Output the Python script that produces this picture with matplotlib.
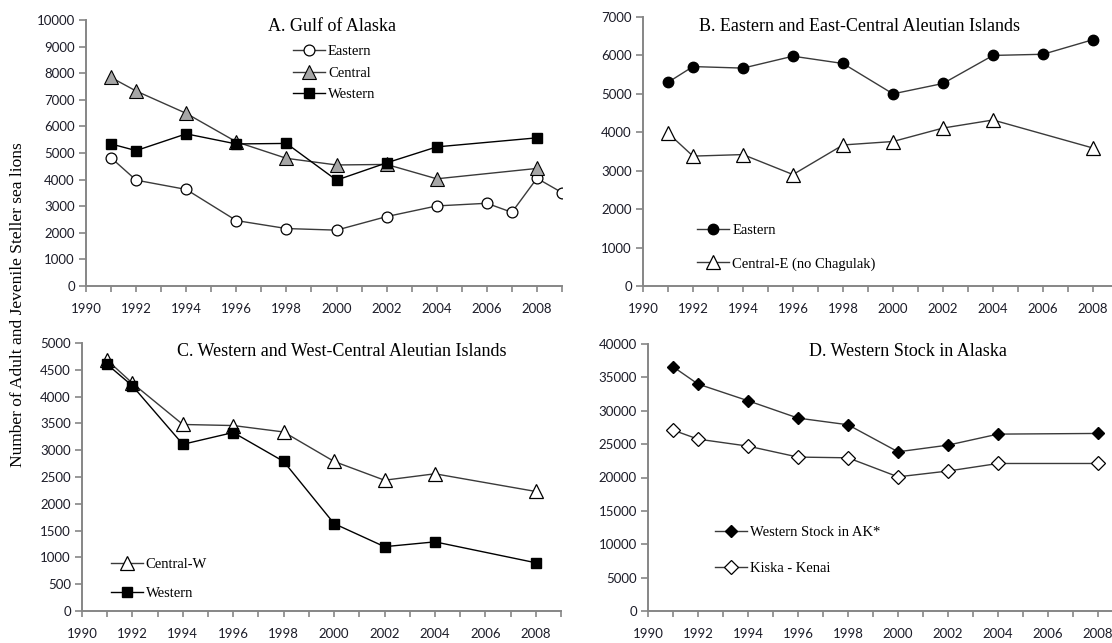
import matplotlib
matplotlib.use("Agg")
import matplotlib.pyplot as plt
from matplotlib.ticker import FixedLocator, FuncFormatter

# Panel A - Gulf of Alaska
a_east_years = [1991, 1992, 1994, 1996, 1998, 2000, 2002, 2004, 2006, 2007, 2008, 2009]
a_east = [4820, 3980, 3630, 2460, 2160, 2100, 2610, 3010, 3110, 2770, 4050, 3510]
a_years = [1991, 1992, 1994, 1996, 1998, 2000, 2002, 2004, 2008]
a_central = [7840, 7330, 6490, 5420, 4800, 4550, 4570, 4030, 4420]
a_west = [5340, 5090, 5720, 5340, 5360, 3980, 4630, 5230, 5570]

# Panel B - Eastern and East-Central Aleutians
b_east_years = [1991, 1992, 1994, 1996, 1998, 2000, 2002, 2004, 2006, 2008]
b_east = [5300, 5710, 5670, 5980, 5790, 5000, 5270, 6000, 6030, 6410]
b_years = [1991, 1992, 1994, 1996, 1998, 2000, 2002, 2004, 2008]
b_central = [3980, 3380, 3420, 2900, 3670, 3760, 4110, 4320, 3590]

# Panel C - Western and West-Central Aleutians
c_years = [1991, 1992, 1994, 1996, 1998, 2000, 2002, 2004, 2008]
c_central = [4680, 4250, 3480, 3460, 3340, 2790, 2440, 2560, 2230]
c_west = [4600, 4200, 3110, 3330, 2790, 1630, 1200, 1290, 900]

# Panel D - Western stock in Alaska
d_years = [1991, 1992, 1994, 1996, 1998, 2000, 2002, 2004, 2008]
d_stock = [36600, 34000, 31500, 28900, 27900, 23850, 24850, 26500, 26600]
d_kiska = [27100, 25750, 24700, 23060, 22950, 20100, 20970, 22100, 22100]

titles = ["A. Gulf of Alaska",
          "B. Eastern and East-Central Aleutian Islands",
          "C. Western and West-Central Aleutian Islands",
          "D. Western Stock in Alaska"]
ylabel = "Number of Adult and Jevenile Steller sea lions"

W, H = 1112, 643
fig = plt.figure(figsize=(W / 100, H / 100), dpi=100)

serif = "Liberation Serif"
tickfont = "Lato"
spine_c = "#868686"
line_c = "#3a3a3a"


def make_ax(left, top, right, bottom):
    return fig.add_axes([left / W, 1 - bottom / H, (right - left) / W, (bottom - top) / H])


def style(ax, ymax, ystep):
    ax.set_xlim(1990, 2009)
    ax.set_ylim(0, ymax)
    for s in ["top", "right"]:
        ax.spines[s].set_visible(False)
    for s in ["left", "bottom"]:
        ax.spines[s].set_color(spine_c)
        ax.spines[s].set_linewidth(1.4)
    ax.xaxis.set_major_locator(FixedLocator(range(1990, 2010)))
    ax.xaxis.set_major_formatter(FuncFormatter(lambda v, p: f"{int(v)}" if int(v) % 2 == 0 and v < 2009 else ""))
    ax.set_yticks(range(0, ymax + 1, ystep))
    ax.tick_params(axis="both", direction="out", color=spine_c, width=1.2, labelcolor="#1c1c28")
    ax.tick_params(axis="x", length=4, pad=8)
    ax.tick_params(axis="y", length=5, pad=3)
    for t in ax.get_xticklabels() + ax.get_yticklabels():
        t.set_fontfamily(tickfont)
        t.set_fontsize(9.5)
    ax.patch.set_alpha(0)


def legend(ax, x, y, spacing):
    lg = ax.legend(loc="upper left", bbox_to_anchor=(x, y), frameon=False,
                   prop={"family": serif, "size": 10.5}, handlelength=2.2,
                   handletextpad=0.2, labelspacing=spacing, borderaxespad=0,
                   borderpad=0)
    return lg


lw = 1.0

# A
axA = make_ax(86, 20, 562, 286)
style(axA, 10000, 1000)
axA.plot(a_east_years, a_east, color=line_c, lw=lw, marker="o", ms=7.8,
         mfc="white", mec="black", mew=0.9, label="Eastern")
axA.plot(a_years, a_central, color=line_c, lw=lw, marker="^", ms=9.5,
         mfc="#a6a6a6", mec="black", mew=0.8, label="Central")
axA.plot(a_years, a_west, color="black", lw=lw, marker="s", ms=7.5,
         mfc="black", mec="black", label="Western")
axA.text(0.517, 0.975, titles[0], transform=axA.transAxes, ha="center", va="center",
         family=serif, fontsize=13)
legend(axA, 0.435, 0.905, 0.55)

# B
axB = make_ax(643, 17, 1118, 286)
style(axB, 7000, 1000)
axB.plot(b_east_years, b_east, color=line_c, lw=lw, marker="o", ms=7.5,
         mfc="black", mec="black", label="Eastern")
axB.plot(b_years, b_central, color=line_c, lw=lw, marker="^", ms=9.5,
         mfc="white", mec="black", mew=0.9, label="Central-E (no Chagulak)")
axB.text(0.455, 0.965, titles[1], transform=axB.transAxes, ha="center", va="center",
         family=serif, fontsize=13)
legend(axB, 0.114, 0.23, 1.35)

# C
axC = make_ax(82, 343, 561, 611)
style(axC, 5000, 500)
axC.plot(c_years, c_central, color=line_c, lw=lw, marker="^", ms=9.5,
         mfc="white", mec="black", mew=0.9, label="Central-W")
axC.plot(c_years, c_west, color="black", lw=lw, marker="s", ms=7.5,
         mfc="black", mec="black", label="Western")
axC.text(0.543, 0.968, titles[2], transform=axC.transAxes, ha="center", va="center",
         family=serif, fontsize=13)
legend(axC, 0.06, 0.198, 1.05)

# D
axD = make_ax(648, 344, 1123, 611)
style(axD, 40000, 5000)
axD.plot(d_years, d_stock, color=line_c, lw=lw, marker="D", ms=6.2,
         mfc="black", mec="black", label="Western Stock in AK*")
axD.plot(d_years, d_kiska, color=line_c, lw=lw, marker="D", ms=6.8,
         mfc="white", mec="black", mew=0.9, label="Kiska - Kenai")
axD.text(0.547, 0.972, titles[3], transform=axD.transAxes, ha="center", va="center",
         family=serif, fontsize=13)
legend(axD, 0.141, 0.318, 1.55)

fig.text(18 / W, 1 - 305 / H, ylabel, rotation=90, ha="center", va="center",
         family=serif, fontsize=12.5)

fig.savefig("out.png", dpi=100)
